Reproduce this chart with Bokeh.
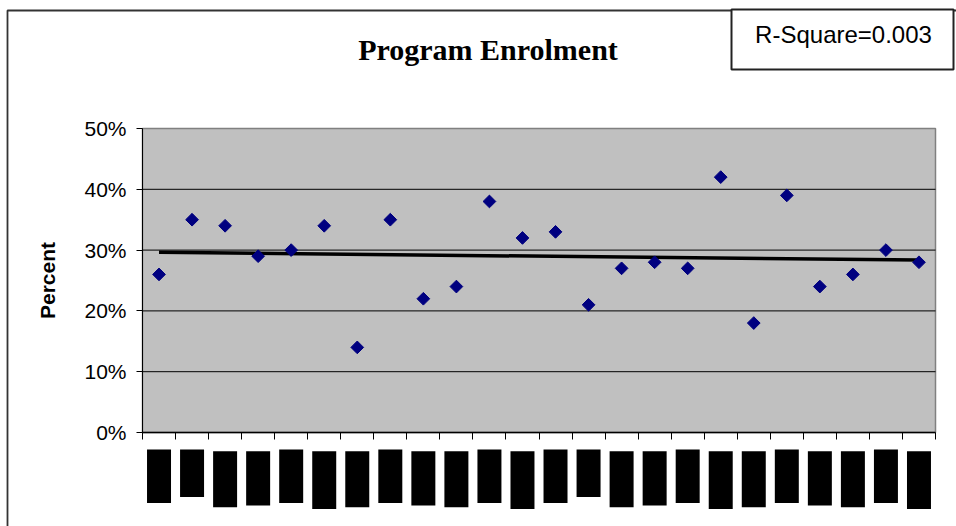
import numpy as np
from bokeh.plotting import figure
from bokeh.models import (Range1d, FixedTicker, NumeralTickFormatter, BoxAnnotation,
                          Label, ColumnDataSource)
from bokeh.embed import file_html
from bokeh.resources import INLINE

# ---------------- data ----------------
programs = list(range(1, 25))   # 24 programs (names redacted in the source)
enrolment_pct = [26, 35, 34, 29, 30, 34, 14, 35, 22, 24, 38, 32,
                 33, 21, 27, 28, 27, 42, 18, 39, 24, 26, 30, 28]
y_ticks = [0, 0.1, 0.2, 0.3, 0.4, 0.5]
# redacted category labels: extent below the axis, in percent units
label_top_pct = [-2.8, -2.8, -3.1, -3.1, -2.8, -3.1, -3.1, -2.8, -3.1, -3.1, -2.8, -3.1,
                 -2.8, -2.8, -3.1, -3.1, -2.8, -3.1, -3.1, -2.8, -3.1, -3.1, -2.8, -3.1]
label_bottom_pct = [-11.6, -10.6, -12.3, -12.0, -11.6, -12.6, -12.3, -11.6, -12.0, -12.3, -11.6, -12.6,
                    -11.6, -10.6, -12.3, -12.0, -11.6, -12.6, -12.3, -11.6, -12.0, -12.3, -11.6, -12.6]
title_text = "Program Enrolment"
r_square_text = "R-Square=0.003"
y_label = "Percent"

# ---------------- layout ----------------
W, H = 956, 526
plot_left, plot_right = 142, 935     # canvas px of grey plot area
plot_top, plot_bottom = 128, 432
n = len(programs)
x_lo, x_hi = 0.5, n + 0.5
y_lo, y_hi = y_ticks[0], y_ticks[-1]
xs = (x_hi - x_lo) / (plot_right - plot_left)
ys = (y_hi - y_lo) / (plot_bottom - plot_top)
x_range = Range1d(x_lo - plot_left * xs, x_hi + (W - plot_right) * xs)
y_range = Range1d(y_lo - (H - plot_bottom) * ys, y_hi + plot_top * ys)

p = figure(width=W, height=H, x_range=x_range, y_range=y_range, title=None,
           toolbar_location=None, output_backend="svg", min_border=0,
           background_fill_color="white", border_fill_color="white")
p.outline_line_color = None
p.xgrid.visible = False
p.ygrid.visible = False

# outer chart border (only left and top edges fall inside the picture)
p.add_layout(BoxAnnotation(left=7, right=W + 20, top=10, bottom=H + 20,
                           left_units="canvas", right_units="canvas",
                           top_units="canvas", bottom_units="canvas",
                           fill_alpha=0.0, line_color="#333333", line_alpha=1.0,
                           line_width=1.8, level="underlay"))

# grey plot area
p.add_layout(BoxAnnotation(left=x_lo, right=x_hi, bottom=y_lo, top=y_hi,
                           fill_color="#C0C0C0", fill_alpha=1.0,
                           line_color="#808080", line_alpha=1.0, line_width=1.5,
                           level="underlay"))

# gridlines (inner)
inner = y_ticks[1:-1]
p.segment(x0=[x_lo] * len(inner), x1=[x_hi] * len(inner), y0=inner, y1=inner,
          line_color="black", line_width=1)

# trend line
vals = np.array(enrolment_pct) / 100.0
xarr = np.array(programs, dtype=float)
slope, icpt = np.polyfit(xarr, vals, 1)
p.line(x=[xarr[0], xarr[-1]], y=[icpt + slope * xarr[0], icpt + slope * xarr[-1]],
       line_color="black", line_width=3.5)

# points
src = ColumnDataSource(dict(x=programs, y=vals))
p.scatter(x="x", y="y", source=src, marker="square", angle=np.pi / 4, size=9,
          fill_color="#000080", line_color="#000080", line_width=1)

# redacted category labels
half = 0.363
p.quad(left=[x - half for x in programs], right=[x + half for x in programs],
       top=[t / 100 for t in label_top_pct], bottom=[b / 100 for b in label_bottom_pct],
       fill_color="black", line_color=None)

# y axis
ya = p.yaxis[0]
ya.fixed_location = x_lo
ya.bounds = (y_lo, y_hi)
ya.ticker = FixedTicker(ticks=y_ticks, minor_ticks=[])
ya.formatter = NumeralTickFormatter(format="0%")
ya.major_tick_out = 6
ya.major_tick_in = 0
ya.minor_tick_out = 0
ya.minor_tick_in = 0
ya.axis_line_color = "black"
ya.axis_line_width = 1
ya.major_label_text_font = "Liberation Sans"
ya.major_label_text_font_size = "21px"
ya.major_label_text_color = "black"
ya.major_label_standoff = 10
ya.axis_label = y_label
ya.axis_label_text_font = "Liberation Sans"
ya.axis_label_text_font_style = "bold"
ya.axis_label_text_font_size = "21px"
ya.axis_label_text_color = "black"
ya.axis_label_standoff = 22

# x axis
xa = p.xaxis[0]
xa.fixed_location = y_lo
xa.bounds = (x_lo, x_hi)
xa.ticker = FixedTicker(ticks=[x - 0.5 for x in programs] + [x_hi], minor_ticks=[])
xa.major_tick_out = 7
xa.major_tick_in = 0
xa.minor_tick_out = 0
xa.minor_tick_in = 0
xa.axis_line_color = "black"
xa.axis_line_width = 1.5
xa.major_label_text_color = None
xa.major_label_text_font_size = "0px"

# title
p.add_layout(Label(x=487.5, y=H - 49, x_units="screen", y_units="screen",
                   text=title_text, text_align="center", text_baseline="alphabetic",
                   text_font="Liberation Serif", text_font_style="bold",
                   text_font_size="30px", text_color="black"))

# R-square box
p.add_layout(BoxAnnotation(left=731, right=953, top=9, bottom=69,
                           left_units="canvas", right_units="canvas",
                           top_units="canvas", bottom_units="canvas",
                           fill_color="white", fill_alpha=1.0,
                           line_color="#222222", line_alpha=1.0, line_width=2,
                           level="overlay"))
p.add_layout(Label(x=843, y=H - 34, x_units="screen", y_units="screen",
                   text=r_square_text, text_align="center", text_baseline="alphabetic",
                   text_font="Liberation Sans", text_font_size="24px",
                   text_color="black", level="overlay"))

open("out.html", "w").write(file_html(p, INLINE))
